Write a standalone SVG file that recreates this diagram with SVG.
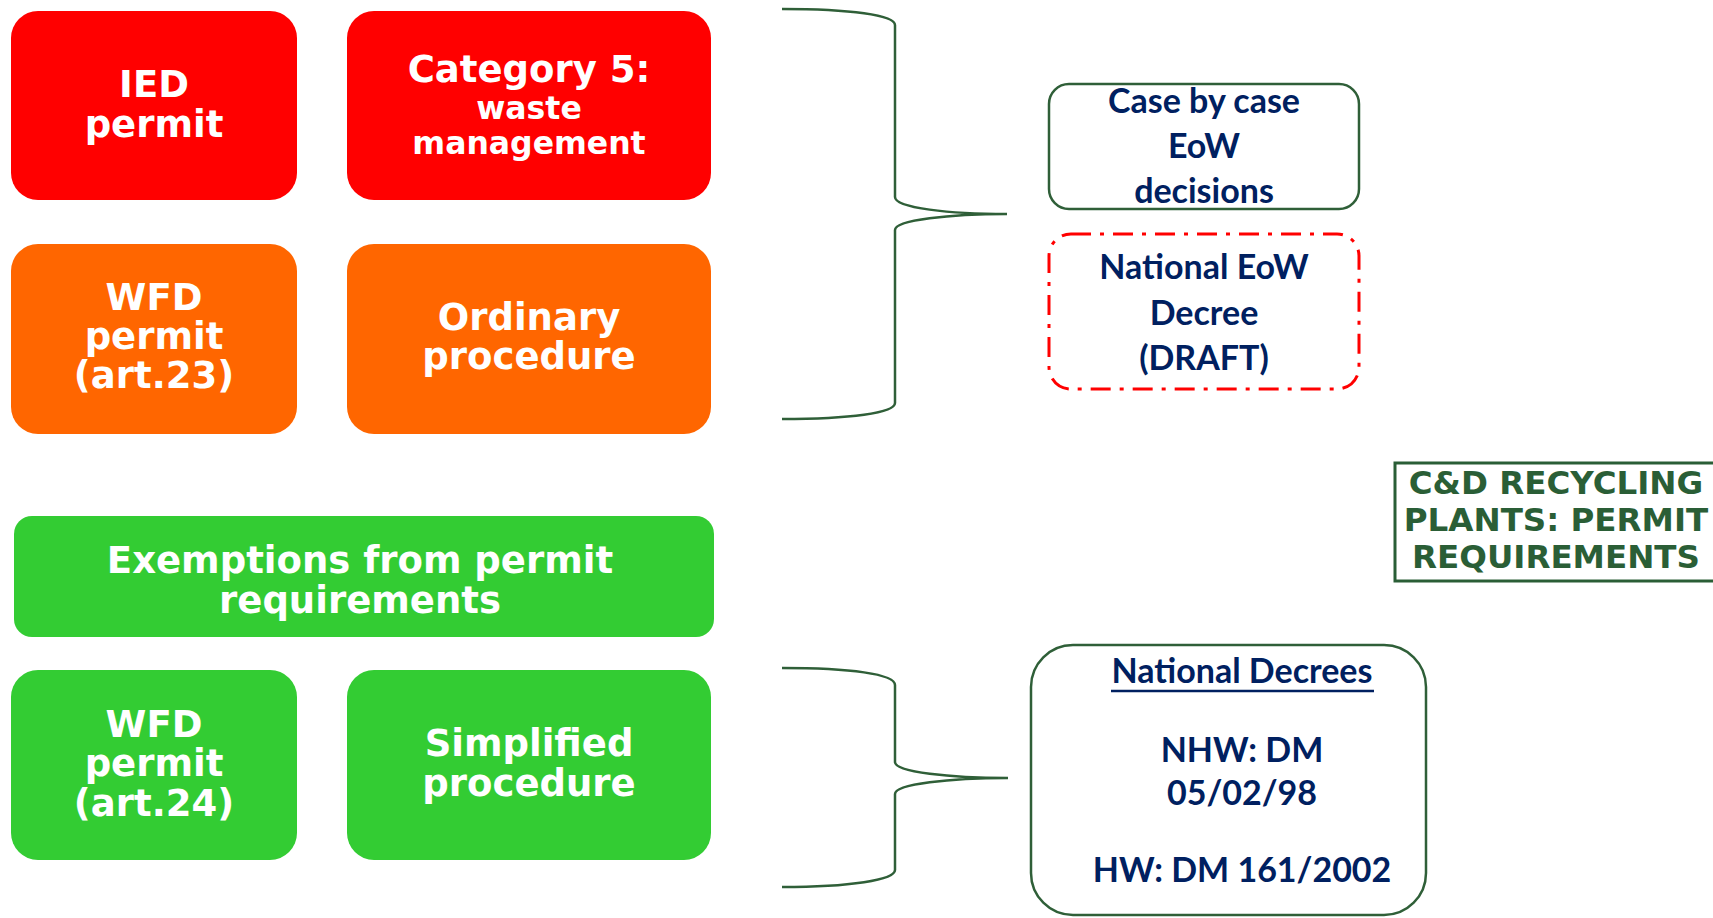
<svg xmlns="http://www.w3.org/2000/svg" width="1713" height="918" viewBox="0 0 1713 918">
<style>
.v{font-family:"DejaVu Sans",Verdana,sans-serif;font-weight:bold;fill:#fff;text-anchor:middle}
.c{font-family:Lato,"Liberation Sans",sans-serif;font-weight:bold;fill:#002060;text-anchor:middle}
.red{fill:#FF0000}.org{fill:#FF6600}.grn{fill:#33CC33}
.brace{fill:none;stroke:#2F5F38;stroke-width:2.5}
</style>
<rect width="1713" height="918" fill="#fff"/>
<g id="ied"><rect class="red" x="11" y="11" width="286" height="189" rx="27"/>
<text class="v" font-size="37"><tspan x="154" y="97">IED</tspan><tspan x="154" y="137">permit</tspan></text></g>
<g id="cat5"><rect class="red" x="347" y="11" width="364" height="189" rx="27"/>
<text class="v" font-size="37" x="529" y="82">Category 5:</text>
<text class="v" font-size="31.5"><tspan x="529" y="119">waste</tspan><tspan x="529" y="154">management</tspan></text></g>
<g id="wfd23"><rect class="org" x="11" y="244" width="286" height="190" rx="27"/>
<text class="v" font-size="37"><tspan x="154" y="310">WFD</tspan><tspan x="154" y="349">permit</tspan><tspan x="154" y="388">(art.23)</tspan></text></g>
<g id="ordinary"><rect class="org" x="347" y="244" width="364" height="190" rx="27"/>
<text class="v" font-size="37"><tspan x="529" y="330">Ordinary</tspan><tspan x="529" y="369">procedure</tspan></text></g>
<g id="exemptions"><rect class="grn" x="14" y="516" width="700" height="121" rx="18"/>
<text class="v" font-size="37"><tspan x="360" y="573">Exemptions from permit</tspan><tspan x="360" y="613">requirements</tspan></text></g>
<g id="wfd24"><rect class="grn" x="11" y="670" width="286" height="190" rx="27"/>
<text class="v" font-size="37"><tspan x="154" y="737">WFD</tspan><tspan x="154" y="776">permit</tspan><tspan x="154" y="816">(art.24)</tspan></text></g>
<g id="simplified"><rect class="grn" x="347" y="670" width="364" height="190" rx="27"/>
<text class="v" font-size="37"><tspan x="529" y="756">Simplified</tspan><tspan x="529" y="796">procedure</tspan></text></g>
<g id="connectors">
<path class="brace" d="M782,9 C850,9 895,15 895,25 L895,197 C895,208 950,214 1007,214 C950,214 895,220 895,230 L895,403 C895,413 850,419 782,419"/>
<path class="brace" d="M782,668 C850,668 895,674 895,685 L895,762 C895,772 950,778 1008,778 C950,778 895,784 895,794 L895,870 C895,880 850,887 782,887"/>
</g>
<g id="casebycase"><rect x="1049" y="84" width="310" height="125" rx="20" fill="#fff" stroke="#2F5F38" stroke-width="2.5"/>
<text class="c" font-size="34"><tspan x="1204" y="113">Case by case</tspan><tspan x="1204" y="158">EoW</tspan><tspan x="1204" y="203">decisions</tspan></text></g>
<g id="nationaleow"><rect x="1049" y="234" width="310" height="155" rx="22" fill="#fff" stroke="#FF0000" stroke-width="3" stroke-dasharray="20 9 4 9"/>
<text class="c" font-size="34"><tspan x="1204" y="279">National EoW</tspan><tspan x="1204" y="325">Decree</tspan><tspan x="1204" y="370">(DRAFT)</tspan></text></g>
<g id="nationaldecrees"><rect x="1031" y="645" width="395" height="270" rx="42" fill="#fff" stroke="#2F5F38" stroke-width="2.5"/>
<text class="c" font-size="34" x="1242" y="683">National Decrees</text>
<line x1="1111" y1="691" x2="1374" y2="691" stroke="#002060" stroke-width="2.5"/>
<text class="c" font-size="34"><tspan x="1242" y="762">NHW: DM</tspan><tspan x="1242" y="805">05/02/98</tspan><tspan x="1242" y="882">HW: DM 161/2002</tspan></text></g>
<g id="title"><rect x="1395" y="463" width="330" height="118" fill="#fff" stroke="#2A5E36" stroke-width="3"/>
<text font-family="DejaVu Sans,Verdana,sans-serif" font-weight="bold" font-size="32.5" fill="#2A5E36" text-anchor="middle"><tspan x="1556" y="494">C&amp;D RECYCLING</tspan><tspan x="1556" y="531">PLANTS: PERMIT</tspan><tspan x="1556" y="568">REQUIREMENTS</tspan></text></g>
</svg>
